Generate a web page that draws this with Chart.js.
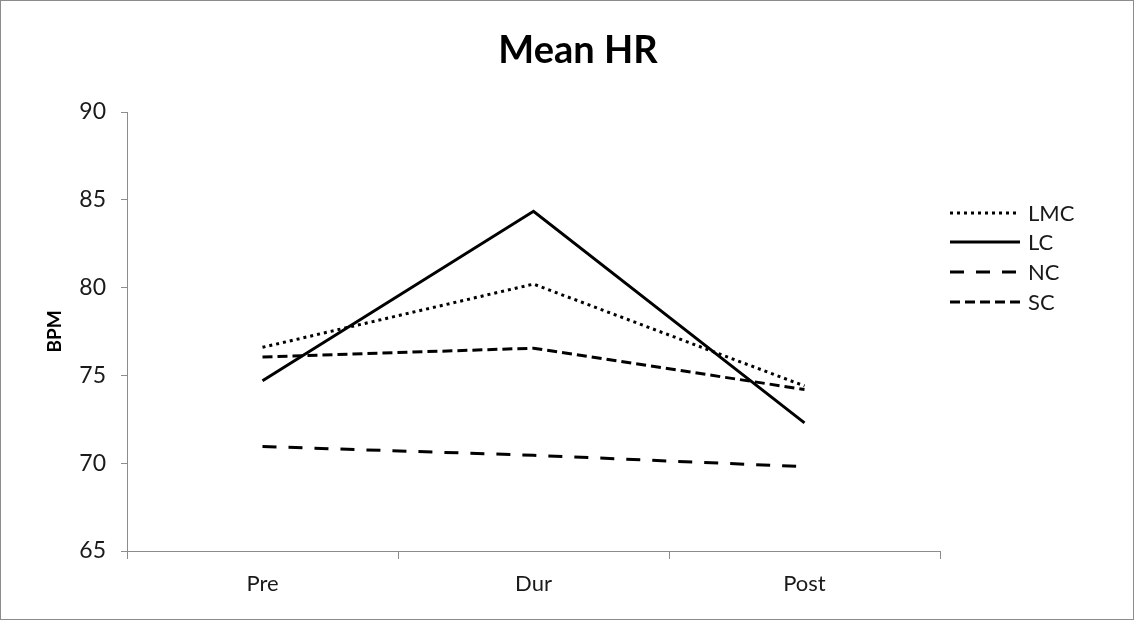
<!DOCTYPE html>
<html><head><meta charset="utf-8">
<script src="https://cdn.jsdelivr.net/npm/chart.js@4"></script>
<style>html,body{margin:0;padding:0;background:#fff}#wrap{width:1134px;height:620px}</style>
</head><body><div id="wrap"><canvas id="c" width="1134" height="620"></canvas></div>
<script>
const categories = ["Pre", "Dur", "Post"];
const seriesNames = ["LMC", "LC", "NC", "SC"];
const lmcValues = [76.6, 80.2, 74.4];
const lcValues = [74.7, 84.35, 72.3];
const ncValues = [70.95, 70.45, 69.8];
const scValues = [76.05, 76.55, 74.2];
const yTicks = [65, 70, 75, 80, 85, 90];

const FONT = "Lato, 'Open Sans', sans-serif";
const styles = [
  {dash: [3, 4], cap: 'butt'},
  {dash: [], cap: 'butt'},
  {dash: [14, 12], cap: 'butt'},
  {dash: [10, 5], cap: 'butt'}
];
const values = [lmcValues, lcValues, ncValues, scValues];

const datasets = seriesNames.map((n, i) => ({
  label: n,
  data: values[i],
  borderColor: '#000',
  backgroundColor: '#000',
  borderWidth: 3,
  borderDash: styles[i].dash,
  borderCapStyle: styles[i].cap,
  pointRadius: 0,
  tension: 0,
  fill: false
}));

const decor = {
  id: 'decor',
  afterDraw(chart) {
    const ctx = chart.ctx;
    ctx.save();
    ctx.strokeStyle = '#8c8c8c';
    ctx.lineWidth = 1;
    ctx.strokeRect(0.5, 0.5, 1133, 619);
    ctx.fillStyle = '#000';
    ctx.font = "bold 38px " + FONT;
    ctx.textAlign = 'center';
    ctx.textBaseline = 'middle';
    ctx.fillText("Mean HR", 578, 51);
    // legend
    const rows = [213, 242, 272, 302];
    chart.data.datasets.forEach((ds, i) => {
      const y = rows[i];
      ctx.strokeStyle = ds.borderColor;
      ctx.lineWidth = ds.borderWidth;
      ctx.setLineDash(ds.borderDash);
      ctx.lineCap = ds.borderCapStyle;
      ctx.beginPath();
      ctx.moveTo(950, y);
      ctx.lineTo(1020, y);
      ctx.stroke();
      ctx.setLineDash([]);
      ctx.fillStyle = '#1a1a1a';
      ctx.font = "22px " + FONT;
      ctx.textAlign = 'left';
      ctx.fillText(ds.label, 1028, y + 1);
    });
    ctx.restore();
  }
};

new Chart(document.getElementById('c'), {
  type: 'line',
  data: {labels: categories, datasets},
  options: {
    responsive: false,
    animation: false,
    layout: {padding: {left: 40, right: 194, top: 112, bottom: 19}},
    plugins: {legend: {display: false}, title: {display: false}, tooltip: {enabled: false}},
    scales: {
      x: {
        offset: true,
        grid: {offset: true, drawOnChartArea: false, drawTicks: true, tickLength: 8, color: '#8c8c8c'},
        border: {color: '#8c8c8c', width: 1},
        ticks: {color: '#1a1a1a', font: {family: FONT, size: 22}, padding: 12},
        afterFit(s) { s.height = 50; }
      },
      y: {
        min: 65, max: 90,
        afterBuildTicks(s) { s.ticks = yTicks.map(v => ({value: v})); },
        grid: {drawOnChartArea: false, drawTicks: true, tickLength: 6, color: '#8c8c8c'},
        border: {color: '#8c8c8c', width: 1},
        ticks: {color: '#1a1a1a', font: {family: FONT, size: 23}, padding: 15},
        title: {display: true, text: 'BPM', color: '#000', font: {family: FONT, size: 19, weight: 'bold'}, padding: 3},
        afterFit(s) { s.width = 87; }
      }
    }
  },
  plugins: [decor]
});
</script>
</body></html>
